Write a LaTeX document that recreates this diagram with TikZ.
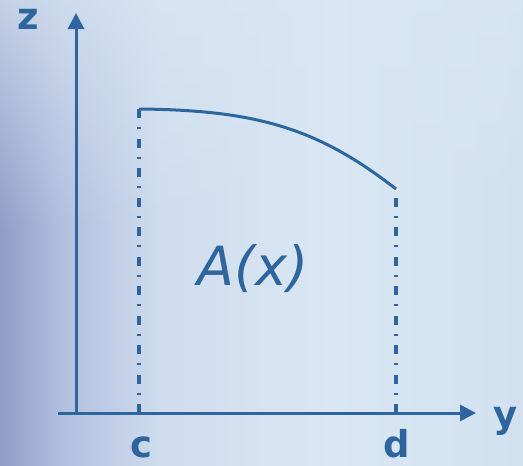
\documentclass[tikz,border=0pt]{standalone}
\usepackage{fontspec}
\setmainfont{DejaVu Sans}
\usetikzlibrary{arrows.meta,fadings}
\definecolor{axblue}{RGB}{46,101,156}
\definecolor{bgA}{RGB}{145,156,198}
\definecolor{bgB}{RGB}{178,190,222}
\definecolor{bgC}{RGB}{206,220,238}
\definecolor{bgD}{RGB}{217,231,244}
\definecolor{bgE}{RGB}{210,225,240}
\tikzfading[name=fadedown, top color=transparent!30, bottom color=transparent!100]
\tikzset{
  axisline/.style={draw=axblue, line width=3pt, -{Triangle[length=16pt,width=16pt]}},
  dashline/.style={draw=axblue, line width=3.2pt, dash pattern=on 9pt off 9.25pt on 2pt off 9.25pt},
  curveline/.style={draw=axblue, line width=3pt},
  lbl/.style={font=\fontsize{37}{37}\selectfont\bfseries, text=axblue, inner sep=0pt, anchor=base},
  arealbl/.style={font=\fontsize{54}{54}\selectfont\itshape, text=axblue, inner sep=0pt, anchor=base}
}
\begin{document}
\begin{tikzpicture}[x=1pt,y=-1pt]
\useasboundingbox (0,0) rectangle (523,466);
% background
\shade[left color=bgA, right color=bgB, draw=none] (0,0) rectangle (60,466);
\shade[left color=bgB, right color=bgC, draw=none] (60,0) rectangle (160,466);
\shade[left color=bgC, right color=bgD, draw=none] (160,0) rectangle (330,466);
\shade[left color=bgD, right color=bgE, draw=none] (330,0) rectangle (523,466);
\fill[bgD, path fading=fadedown] (0,0) rectangle (523,230);
% coordinates
\coordinate (O) at (76,413);
\coordinate (ztip) at (76,13);
\coordinate (yleft) at (58,413);
\coordinate (ytip) at (476,413);
\coordinate (ctop) at (139,109);
\coordinate (cbot) at (139,413);
\coordinate (dtop) at (396,189);
\coordinate (dbot) at (396,413);
% dash-dot verticals
\draw[dashline] (cbot) -- (ctop);
\draw[dashline] (dbot) -- (dtop);
% curve
\draw[curveline] (ctop) .. controls (260,110) and (320,130) .. (dtop);
% axes
\draw[axisline] (O) -- (ztip);
\draw[axisline] (yleft) -- (ytip);
% labels
\node[lbl] (zl) at (28,29) {z};
\node[lbl] (yl) at (506,427) {y};
\node[lbl, text depth=0pt] (cl) at (141,457) {c};
\node[lbl, text depth=0pt] (dl) at (397,457) {d};
\node[arealbl] (A) at (253,285) {A(x)};
\end{tikzpicture}
\end{document}
